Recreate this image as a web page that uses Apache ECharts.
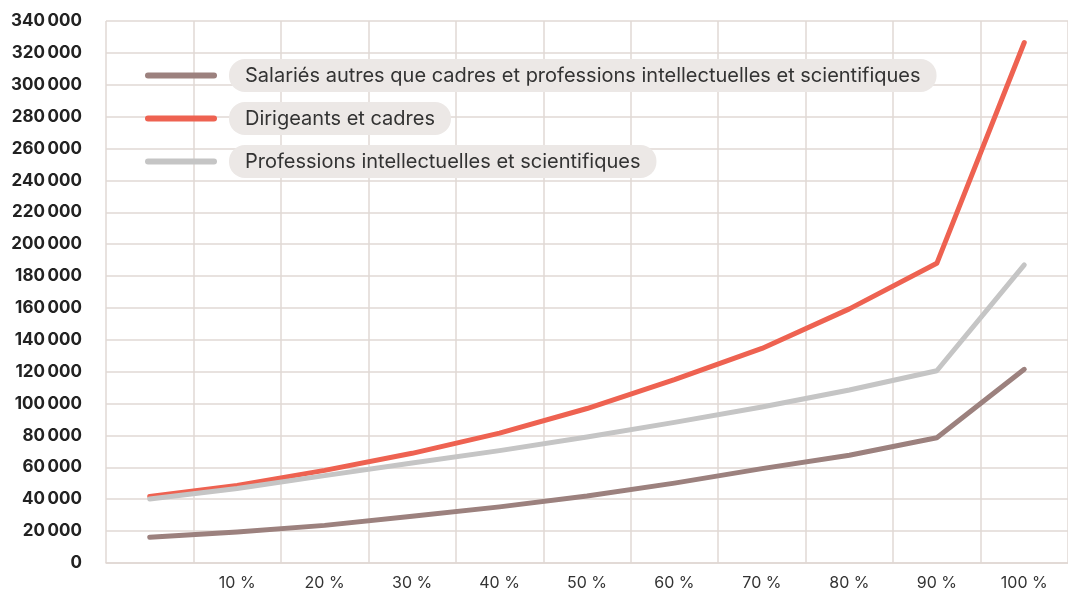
<!DOCTYPE html>
<html>
<head>
<meta charset="utf-8">
<script src="https://cdn.jsdelivr.net/npm/echarts@6/dist/echarts.min.js"></script>
<style>
html,body{margin:0;padding:0;background:#fff;}
#main{width:1068px;height:591px;}
</style>
</head>
<body>
<div id="main"></div>
<script>
const categories = ['', '10 %', '20 %', '30 %', '40 %', '50 %', '60 %', '70 %', '80 %', '90 %', '100 %'];
const seriesNames = [
  'Salariés autres que cadres et professions intellectuelles et scientifiques',
  'Dirigeants et cadres',
  'Professions intellectuelles et scientifiques'
];
const salaries = [16100, 19400, 23600, 29300, 35200, 42000, 50100, 59200, 67600, 78600, 121500];
const dirigeants = [41800, 48700, 58100, 68800, 81500, 96900, 115000, 134600, 159400, 188000, 326500];
const professions = [40200, 46700, 54800, 62700, 70500, 79000, 88200, 97900, 108500, 120600, 187000];
const colors = ['#9c817e', '#ee6251', '#c5c5c5'];

const chart = echarts.init(document.getElementById('main'), null, {renderer: 'canvas'});
const gridColor = '#e0d8d4';
const font = 'Inter, "Noto Sans", sans-serif';

function lineSeries(name, data, color) {
  return {
    name: name,
    type: 'line',
    data: data,
    symbol: 'none',
    smooth: false,
    lineStyle: {color: color, width: 5, cap: 'round', join: 'round'},
    itemStyle: {color: color}
  };
}

chart.setOption({
  animation: false,
  color: colors,
  grid: {left: 106, right: -9, top: 21, bottom: 28, containLabel: false},
  legend: {
    orient: 'vertical',
    left: 145,
    top: 59,
    padding: 0,
    itemGap: 10,
    itemWidth: 72,
    itemHeight: 6,
    icon: 'path://M3,0 L69,0 A3,3 0 0 1 69,6 L3,6 A3,3 0 0 1 3,0 Z',
    data: seriesNames,
    formatter: function (n) { return '{g|}{t|' + n + '}'; },
    textStyle: {
      rich: {
        g: {width: 7},
        t: {
          backgroundColor: '#ece8e6',
          borderRadius: 16,
          padding: [7, 16, 6, 16],
          fontSize: 20,
          fontFamily: font,
          color: '#333',
          lineHeight: 18
        }
      }
    },
    selectedMode: false
  },
  xAxis: {
    type: 'category',
    data: categories,
    boundaryGap: true,
    axisLine: {show: true, lineStyle: {color: gridColor, width: 1.5}},
    axisTick: {show: false},
    splitLine: {show: true, lineStyle: {color: gridColor, width: 1.5}},
    axisLabel: {color: '#333', fontSize: 16, fontFamily: font, margin: 12, interval: 0}
  },
  yAxis: {
    type: 'value',
    min: 0,
    max: 340000,
    interval: 20000,
    axisLine: {show: false},
    axisTick: {show: false},
    splitLine: {show: true, lineStyle: {color: gridColor, width: 1.5}},
    axisLabel: {
      color: '#222',
      fontSize: 17,
      fontWeight: 'bold',
      fontFamily: font,
      margin: 24,
      formatter: function (v) {
        if (v === 0) return '0';
        const s = String(v);
        return s.slice(0, s.length - 3) + '\u2009' + s.slice(-3);
      }
    }
  },
  series: [
    lineSeries(seriesNames[0], salaries, colors[0]),
    lineSeries(seriesNames[1], dirigeants, colors[1]),
    lineSeries(seriesNames[2], professions, colors[2])
  ]
});
</script>
</body>
</html>
